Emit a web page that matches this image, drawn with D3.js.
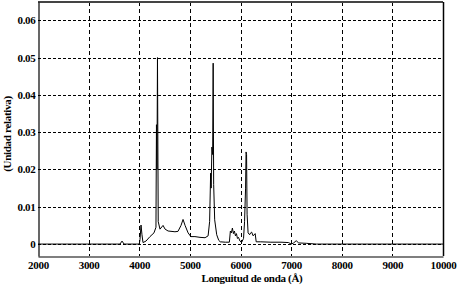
<!DOCTYPE html>
<html>
<head>
<meta charset="utf-8">
<script src="https://cdn.jsdelivr.net/npm/d3@7"></script>
<style>
  body { margin: 0; background: #fff; }
  svg { display: block; }
  .lbl { font-family: "Liberation Serif", "Times New Roman", serif; font-weight: bold; font-size: 11px; letter-spacing: -0.3px; fill: #000; }
</style>
</head>
<body>
<svg id="chart" width="463" height="287"></svg>
<script>
// spectrum (wavelength in angstrom, relative units)
var wavelength = [2000, 3600, 3620, 3660, 3700, 4000, 4015, 4035, 4054, 4074, 4133, 4212, 4291, 4330,
  4340, 4350, 4360, 4375, 4410, 4470, 4510, 4570, 4705, 4765, 4825, 4865, 4905, 4965, 5020, 5100,
  5200, 5300, 5360, 5390, 5410, 5420, 5435, 5450, 5460, 5470, 5490, 5530, 5570, 5600, 5700, 5780,
  5800, 5820, 5840, 5860, 5880, 5900, 5920, 5940, 5960, 5990, 6020, 6060, 6080, 6100, 6110, 6120,
  6130, 6150, 6180, 6200, 6220, 6250, 6290, 6310, 6400, 6600, 6800, 6950, 7000, 7050, 7100, 7150,
  7300, 7500, 10000];
var intensity = [0, 0, 0, 0.0008, 0, 0, 0.0012, 0.0051, 0.0025, 0.0004, 0.0008, 0.0020, 0.0030, 0.0045,
  0.032, 0.020, 0.050, 0.006, 0.0040, 0.0050, 0.0040, 0.0035, 0.0033, 0.0034, 0.0050, 0.0066, 0.0050, 0.0030, 0.0020, 0.0020,
  0.0018, 0.0017, 0.0022, 0.0060, 0.019, 0.015, 0.026, 0.024, 0.0485, 0.016, 0.0065, 0.0025, 0.0010, 0.0006, 0.0005, 0.0005,
  0.0035, 0.0030, 0.0043, 0.0028, 0.0035, 0.0022, 0.0028, 0.0015, 0.0018, 0.0008, 0.0004, 0.0015, 0.0060, 0.0150, 0.0247, 0.0240,
  0.008, 0.0030, 0.0025, 0.0030, 0.0032, 0.0022, 0.0028, 0.0006, 0.0006, 0.0005, 0.0005, 0.0004, 0, 0.0003, 0.0009, 0.0003,
  0.0002, 0, 0];
var xTicks = [2000, 3000, 4000, 5000, 6000, 7000, 8000, 9000, 10000];
var yTicks = [0, 0.01, 0.02, 0.03, 0.04, 0.05, 0.06];
var xTitle = "Longuitud de onda (Å)";
var yTitle = "(Unidad relativa)";

var svg = d3.select("#chart");
var mLeft = 38, mRight = 443, mTop = 2, mBottom = 256;

var x = d3.scaleLinear().domain([2000, 10000]).range([mLeft, mRight]);
var y = d3.scaleLinear().domain([-0.0032, 0.0649]).range([mBottom, mTop]);

// grid
var grid = svg.append("g");
grid.selectAll(".vg").data(xTicks.slice(1, -1)).enter().append("line")
  .attr("x1", function (d) { return Math.round(x(d)) + 0.5; })
  .attr("x2", function (d) { return Math.round(x(d)) + 0.5; })
  .attr("y1", mTop).attr("y2", mBottom)
  .attr("stroke", "#000").attr("stroke-dasharray", "4,3");
grid.selectAll(".hg").data(yTicks).enter().append("line")
  .attr("x1", mLeft).attr("x2", mRight)
  .attr("y1", function (d) { return Math.round(y(d)) + 0.5; })
  .attr("y2", function (d) { return Math.round(y(d)) + 0.5; })
  .attr("stroke", "#000").attr("stroke-dasharray", "3,2");

// spectrum
var line = d3.line()
  .x(function (d, i) { return x(wavelength[i]); })
  .y(function (d) { return y(d); });
svg.append("path").datum(intensity)
  .attr("d", line)
  .attr("fill", "none")
  .attr("stroke", "#000")
  .attr("stroke-width", 1);

// frame
svg.append("line").attr("x1", mLeft).attr("x2", mRight).attr("y1", mTop).attr("y2", mTop)
  .attr("stroke", "#444").attr("stroke-width", 2);
svg.append("line").attr("x1", mRight + 0.5).attr("x2", mRight + 0.5).attr("y1", mTop).attr("y2", mBottom)
  .attr("stroke", "#000").attr("stroke-width", 1.5);

// axes
var xAxis = d3.axisBottom(x).tickValues(xTicks).tickSize(0).tickPadding(5)
  .tickFormat(d3.format("d"));
var gx = svg.append("g").attr("transform", "translate(0," + (mBottom + 0.5) + ")").call(xAxis);
gx.select(".domain").attr("stroke", "#000").attr("stroke-width", 1.2);
gx.selectAll("text").attr("class", "lbl").attr("font-family", null).attr("font-size", null);

var yAxis = d3.axisLeft(y).tickValues(yTicks).tickSize(0).tickPadding(3)
  .tickFormat(function (d) { return d === 0 ? "0" : d3.format(".2f")(d); });
var gy = svg.append("g").attr("transform", "translate(" + (mLeft + 0.5) + ",0)").call(yAxis);
gy.select(".domain").attr("stroke", "#000").attr("stroke-width", 1.2);
gy.selectAll("text").attr("class", "lbl").attr("font-family", null).attr("font-size", null);

// titles
svg.append("text").attr("class", "lbl")
  .attr("x", 252).attr("y", 282).attr("text-anchor", "middle")
  .text(xTitle);
svg.append("text").attr("class", "lbl")
  .attr("transform", "translate(11,134) rotate(-90)")
  .attr("text-anchor", "middle")
  .text(yTitle);
</script>
</body>
</html>
